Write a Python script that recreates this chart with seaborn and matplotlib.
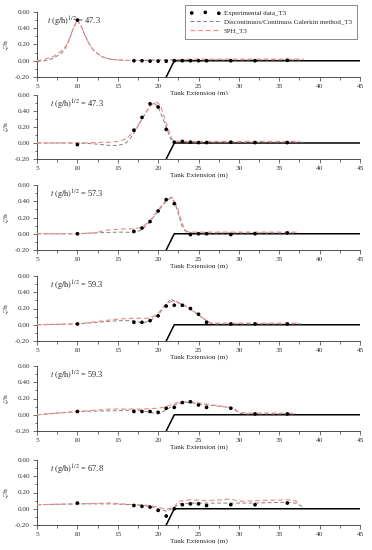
import numpy as np
import pandas as pd
import matplotlib
matplotlib.use("Agg")
import matplotlib.pyplot as plt
from matplotlib.ticker import MultipleLocator, FormatStrFormatter
import seaborn as sns

sns.set_style("ticks")
plt.rcParams['font.family'] = ['Liberation Serif', 'DejaVu Serif']
plt.rcParams['mathtext.fontset'] = 'stix'

# ---------------- data ----------------
times = ["47.3", "47.3", "57.3", "59.3", "59.3", "67.8"]

exp_x = [
    [10, 17, 18, 19, 20, 21, 22, 23, 24, 25, 26, 29, 32, 36],
    [10, 17, 18, 19, 20, 21, 22, 23, 24, 25, 26, 29, 32, 36],
    [10, 17, 18, 19, 20, 21, 22, 24, 25, 26, 29, 32, 36],
    [10, 17, 18, 19, 20, 21, 22, 23, 24, 25, 26, 29, 32, 36],
    [10, 17, 18, 19, 20, 21, 22, 23, 24, 25, 26, 29, 32, 36],
    [10, 17, 18, 19, 20, 21, 22, 23, 24, 25, 26, 29, 32, 36],
]
exp_y = [
    [0.50, 0.00, 0.00, -0.005, -0.005, -0.005, 0.00, 0.00, 0.00, 0.00, 0.00, 0.00, 0.00, 0.005],
    [-0.02, 0.16, 0.32, 0.49, 0.45, 0.17, 0.01, 0.02, 0.01, 0.005, 0.005, 0.01, 0.005, 0.005],
    [0.00, 0.03, 0.07, 0.15, 0.28, 0.42, 0.37, -0.01, 0.00, 0.00, -0.01, 0.00, 0.01],
    [0.01, 0.03, 0.03, 0.05, 0.11, 0.23, 0.24, 0.24, 0.20, 0.13, 0.03, 0.01, 0.01, 0.01],
    [0.04, 0.04, 0.04, 0.04, 0.03, 0.08, 0.09, 0.15, 0.16, 0.12, 0.09, 0.08, 0.01, 0.01],
    [0.07, 0.04, 0.03, 0.02, -0.02, -0.09, 0.00, 0.05, 0.06, 0.06, 0.04, 0.05, 0.05, 0.07],
]

gal_x = [
    [5, 6, 7, 8, 8.5, 9, 9.5, 10, 10.5, 11, 11.5, 12, 13, 14, 15, 16, 17, 20, 25, 30, 35, 38],
    [5, 10, 12, 13, 14, 15, 15.5, 16, 16.5, 17, 18, 19, 19.5, 20, 20.5, 21, 21.5, 22, 23, 30, 38],
    [5, 10, 12, 15, 16, 17, 18, 19, 20, 21, 21.5, 22, 22.5, 23, 23.5, 24, 30, 37],
    [5, 10, 15, 17, 18, 19, 20, 21, 21.6, 22, 23, 24, 25, 26, 26.5, 27, 32, 38],
    [5, 10, 15, 17, 18, 19, 20, 21, 22, 23, 24, 26, 28, 29.5, 30, 31, 37],
    [5, 10, 14, 17, 19, 20, 21, 22, 22.5, 24, 26, 29, 32, 36, 37, 38],
]
gal_y = [
    [-0.01, 0.00, 0.03, 0.09, 0.15, 0.26, 0.40, 0.50, 0.42, 0.30, 0.20, 0.13, 0.05, 0.02, 0.01, 0.005, 0.00, 0.01, 0.01, 0.01, 0.01, 0.01],
    [0.00, 0.00, -0.01, -0.02, -0.03, -0.03, -0.02, 0.00, 0.05, 0.12, 0.30, 0.47, 0.50, 0.45, 0.33, 0.20, 0.06, 0.01, 0.01, 0.01, 0.01],
    [0.00, 0.00, 0.01, 0.02, 0.02, 0.01, 0.05, 0.15, 0.28, 0.40, 0.44, 0.40, 0.25, 0.08, 0.02, 0.01, 0.01, 0.01],
    [0.00, 0.01, 0.05, 0.05, 0.02, 0.05, 0.12, 0.25, 0.32, 0.29, 0.25, 0.20, 0.12, 0.05, 0.02, 0.01, 0.01, 0.01],
    [0.00, 0.04, 0.05, 0.06, 0.05, 0.03, 0.01, 0.06, 0.12, 0.15, 0.15, 0.12, 0.10, 0.08, 0.02, 0.01, 0.01],
    [0.05, 0.06, 0.06, 0.05, 0.03, 0.00, -0.03, 0.01, 0.06, 0.07, 0.07, 0.07, 0.07, 0.08, 0.07, 0.02],
]

sph_x = [
    [5, 6, 7, 8, 8.5, 9, 9.5, 10, 10.5, 11, 11.5, 12, 13, 14, 15, 16, 17, 20, 25, 30, 35, 38],
    [5, 10, 14, 15, 16, 17, 18, 19, 19.7, 20.3, 21, 21.7, 22, 23, 30, 37.5],
    [5, 10, 12, 14, 16, 17, 18, 19, 20, 21, 21.7, 22.3, 23, 23.5, 24, 30, 37.5],
    [5, 10, 15, 17, 19, 20, 21, 22, 23, 24, 25, 26, 26.5, 32, 37.5],
    [5, 10, 14, 18, 20, 21, 22, 23, 24, 26, 29, 30, 31, 37],
    [5, 10, 14, 17, 19, 20, 21, 22, 22.5, 24, 26, 28, 29, 30, 32, 36, 37, 37.5],
]
sph_y = [
    [0.00, 0.02, 0.05, 0.12, 0.17, 0.27, 0.40, 0.50, 0.42, 0.30, 0.20, 0.13, 0.05, 0.02, 0.01, 0.005, 0.005, 0.01, 0.02, 0.02, 0.02, 0.02],
    [0.00, 0.00, 0.01, 0.02, 0.05, 0.14, 0.30, 0.46, 0.52, 0.47, 0.25, 0.05, 0.02, 0.02, 0.02, 0.02],
    [0.00, 0.00, 0.01, 0.05, 0.06, 0.06, 0.08, 0.16, 0.29, 0.42, 0.45, 0.35, 0.12, 0.03, 0.02, 0.02, 0.02],
    [0.00, 0.01, 0.07, 0.08, 0.08, 0.14, 0.26, 0.30, 0.25, 0.19, 0.12, 0.05, 0.02, 0.02, 0.02],
    [0.00, 0.04, 0.07, 0.07, 0.08, 0.10, 0.14, 0.16, 0.16, 0.13, 0.09, 0.03, 0.02, 0.02],
    [0.05, 0.06, 0.07, 0.05, 0.04, 0.02, -0.01, 0.02, 0.09, 0.11, 0.10, 0.11, 0.12, 0.09, 0.10, 0.11, 0.10, 0.06],
]

bed_x = [21, 22, 45]
bed_y = [-0.20, 0.00, 0.00]

# ---------------- figure ----------------
W, H = 372, 550
fig = plt.figure(figsize=(W / 100, H / 100), dpi=100)
tops = [12, 95, 185, 276, 366, 460]
bots = [77, 159, 250, 341, 431, 525]
left_px, right_px = 37, 360

fs = 5.2
for i in range(6):
    ax = fig.add_axes([left_px / W, 1 - bots[i] / H, (right_px - left_px) / W, (bots[i] - tops[i]) / H])
    sns.lineplot(x=bed_x, y=bed_y, ax=ax, color='black', lw=1.1, zorder=2)
    sns.lineplot(x=gal_x[i], y=gal_y[i], ax=ax, color='#808080', lw=0.7,
                 linestyle=(0, (4, 2.5)), zorder=3, label='Discontinuos/Continuos Galerkin method_T3' if i == 0 else None)
    sns.lineplot(x=sph_x[i], y=sph_y[i], ax=ax, color='#f28a8a', lw=0.85,
                 linestyle=(0, (4, 2.5)), zorder=4, label='SPH_T3' if i == 0 else None)
    sns.scatterplot(x=exp_x[i], y=exp_y[i], ax=ax, color='black', s=7, edgecolor='none',
                    zorder=5, label='Experimental data_T3' if i == 0 else None)
    ax.set_xlim(5, 45)
    ax.set_ylim(-0.2, 0.6)
    ax.xaxis.set_major_locator(MultipleLocator(5))
    ax.xaxis.set_minor_locator(MultipleLocator(2.5))
    ax.yaxis.set_major_locator(MultipleLocator(0.2))
    ax.yaxis.set_minor_locator(MultipleLocator(0.1))
    ax.yaxis.set_major_formatter(FormatStrFormatter('%.2f'))
    for s in ['top', 'right']:
        ax.spines[s].set_visible(False)
    for s in ['left', 'bottom']:
        ax.spines[s].set_linewidth(0.6)
        ax.spines[s].set_color('#333333')
    ax.tick_params(which='major', labelsize=fs, length=3, width=0.5, pad=2, colors='#333333')
    ax.tick_params(which='minor', length=1.8, width=0.5, colors='#333333')
    ax.set_xlabel('Tank Extension (m)', fontsize=fs, labelpad=1)
    ax.set_ylabel(r'$\zeta$/h', fontsize=fs, labelpad=3)
    ax.text(0.03 if i == 0 else 0.04, 0.96, r'$t\ \mathrm{(g/h)}^{1/2}$ = ' + times[i],
            transform=ax.transAxes, fontsize=6, va='top', ha='left')
    if i == 0:
        h, l = ax.get_legend_handles_labels()
        order = [2, 0, 1]
        leg = ax.legend([h[k] for k in order], [l[k] for k in order], loc='upper right',
                        bbox_to_anchor=(1.0, 1.16), fontsize=5, frameon=True, fancybox=False,
                        edgecolor='#555555', scatterpoints=3, handlelength=4.5,
                        borderpad=0.7, labelspacing=0.45, handletextpad=0.4)
        leg.get_frame().set_linewidth(0.6)
    elif ax.get_legend() is not None:
        ax.get_legend().remove()

fig.savefig('out.png', dpi=100)
